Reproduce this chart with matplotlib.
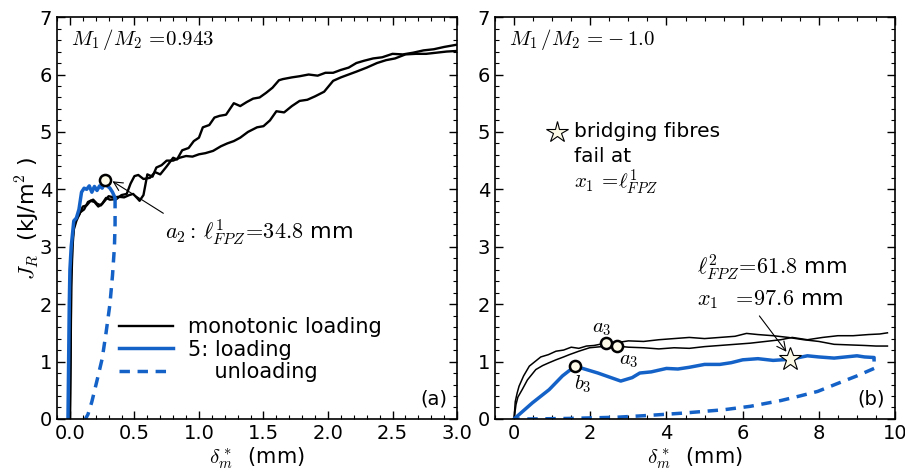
import matplotlib
matplotlib.use('Agg')
import matplotlib.pyplot as plt
from matplotlib.ticker import MultipleLocator

plt.rcParams['mathtext.fontset'] = 'cm'
plt.rcParams['font.family'] = 'DejaVu Sans'

BLUE = '#1462c8'

# ---- panel (a): M1/M2 = 0.943 ----
a_mono1_x = [0.0, 0.005, 0.01, 0.02, 0.03, 0.05, 0.07, 0.1, 0.13, 0.16, 0.19, 0.22, 0.25, 0.28, 0.31,
             0.36, 0.40, 0.44, 0.47, 0.50, 0.53, 0.57, 0.62, 0.66, 0.70, 0.75, 0.80, 0.83, 0.87, 0.92,
             0.96, 1.00, 1.03, 1.08, 1.12, 1.16, 1.21, 1.27, 1.32, 1.37, 1.42, 1.47, 1.52, 1.57, 1.62,
             1.65, 1.72, 1.78, 1.85, 1.92, 1.98, 2.04, 2.10, 2.16, 2.22, 2.28, 2.35, 2.42, 2.50, 2.58,
             2.66, 2.74, 2.82, 2.90, 3.0]
a_mono1_y = [0.0, 1.2, 2.5, 3.1, 3.35, 3.5, 3.55, 3.7, 3.72, 3.8, 3.78, 3.7, 3.75, 3.85, 3.82,
             3.83, 3.9, 3.92, 4.1, 4.23, 4.25, 4.18, 4.2, 4.3, 4.26, 4.4, 4.55, 4.52, 4.68, 4.72,
             4.84, 4.9, 5.08, 5.12, 5.25, 5.28, 5.3, 5.5, 5.45, 5.52, 5.58, 5.6, 5.68, 5.77, 5.9,
             5.92, 5.95, 5.97, 6.0, 5.98, 6.03, 6.03, 6.08, 6.12, 6.2, 6.24, 6.28, 6.3, 6.36, 6.35,
             6.38, 6.42, 6.44, 6.48, 6.52]
a_mono2_x = [0.0, 0.005, 0.01, 0.02, 0.03, 0.05, 0.08, 0.11, 0.14, 0.18, 0.21, 0.24, 0.27, 0.30, 0.34,
             0.38, 0.42, 0.46, 0.49, 0.52, 0.54, 0.57, 0.60, 0.64, 0.67, 0.71, 0.75, 0.80, 0.85, 0.90,
             0.95, 1.00, 1.05, 1.11, 1.17, 1.22, 1.27, 1.32, 1.38, 1.45, 1.50, 1.55, 1.60, 1.66, 1.72,
             1.78, 1.84, 1.90, 1.97, 2.04, 2.10, 2.16, 2.22, 2.30, 2.38, 2.45, 2.52, 2.60, 2.68, 2.76,
             2.84, 2.92, 3.0]
a_mono2_y = [0.0, 1.0, 2.3, 3.0, 3.3, 3.45, 3.6, 3.65, 3.78, 3.82, 3.75, 3.72, 3.8, 3.88, 3.86,
             3.87, 3.86, 3.9, 3.92, 3.85, 3.8, 3.9, 4.26, 4.22, 4.38, 4.42, 4.5, 4.5, 4.55, 4.58,
             4.57, 4.61, 4.63, 4.67, 4.75, 4.8, 4.84, 4.9, 5.0, 5.08, 5.1, 5.2, 5.36, 5.34, 5.45,
             5.54, 5.56, 5.62, 5.7, 5.89, 5.95, 6.0, 6.05, 6.12, 6.2, 6.25, 6.28, 6.35, 6.36, 6.36,
             6.38, 6.4, 6.41]
a_load_x = [-0.015, -0.01, -0.005, 0.0, 0.01, 0.03, 0.05, 0.07, 0.09, 0.11, 0.13, 0.15, 0.17, 0.19,
            0.21, 0.23, 0.25, 0.27, 0.29, 0.31, 0.33, 0.35]
a_load_y = [0.0, 1.0, 2.0, 2.6, 3.0, 3.45, 3.5, 3.65, 3.95, 4.02, 4.0, 4.06, 3.95, 4.05, 3.98,
            4.06, 4.02, 4.12, 4.06, 4.02, 3.95, 3.85]
a_unload_x = [0.35, 0.35, 0.345, 0.33, 0.31, 0.28, 0.25, 0.21, 0.17, 0.14, 0.12]
a_unload_y = [3.85, 3.4, 3.0, 2.5, 2.0, 1.5, 1.05, 0.67, 0.3, 0.08, 0.0]
a_mark = (0.27, 4.17)

# ---- panel (b): M1/M2 = -1.0 ----
b_mono1_x = [0.0, 0.03, 0.08, 0.13, 0.25, 0.4, 0.55, 0.7, 0.9, 1.1, 1.3, 1.5, 1.7, 1.9, 2.1, 2.4,
             2.7, 3.0, 3.4, 3.8, 4.2, 4.6, 5.0, 5.4, 5.8, 6.1, 6.4, 6.8, 7.2, 7.6, 8.0, 8.4, 8.8,
             9.2, 9.5, 9.8]
b_mono1_y = [0.0, 0.3, 0.45, 0.57, 0.75, 0.92, 1.0, 1.08, 1.12, 1.18, 1.2, 1.25, 1.23, 1.27, 1.28, 1.32,
             1.33, 1.36, 1.35, 1.38, 1.4, 1.42, 1.4, 1.42, 1.44, 1.49, 1.47, 1.45, 1.42, 1.38, 1.35, 1.3,
             1.29, 1.28, 1.27, 1.27]
b_mono2_x = [0.0, 0.05, 0.1, 0.22, 0.35, 0.57, 0.75, 0.92, 1.1, 1.3, 1.45, 1.7, 1.98, 2.3, 2.69, 3.0,
             3.4, 3.8, 4.2, 4.6, 5.0, 5.4, 5.8, 6.2, 6.6, 7.0, 7.3, 7.7, 8.1, 8.5, 8.9, 9.3, 9.6,
             9.8]
b_mono2_y = [0.0, 0.25, 0.38, 0.52, 0.68, 0.86, 0.93, 0.98, 1.03, 1.08, 1.12, 1.18, 1.24, 1.26, 1.27, 1.25,
             1.24, 1.22, 1.24, 1.23, 1.26, 1.28, 1.3, 1.32, 1.35, 1.38, 1.42, 1.38, 1.42, 1.45, 1.45, 1.47,
             1.48, 1.5]
b_load_x = [0.0, 0.48, 0.92, 1.27, 1.6, 2.2, 2.8, 3.1, 3.3, 3.6, 4.0, 4.3, 4.6, 5.0, 5.4, 5.7,
            6.0, 6.4, 6.8, 7.25, 7.7, 8.0, 8.4, 8.7, 9.0, 9.2, 9.45, 9.45]
b_load_y = [0.0, 0.28, 0.51, 0.75, 0.92, 0.8, 0.66, 0.72, 0.8, 0.82, 0.88, 0.87, 0.9, 0.95, 0.95, 0.98,
            1.03, 1.05, 1.02, 1.04, 1.1, 1.08, 1.06, 1.08, 1.1, 1.08, 1.07, 1.03]
b_unload_x = [9.45, 9.0, 8.5, 7.97, 7.5, 7.0, 6.2, 5.5, 4.4, 3.5, 2.7, 1.5, 0.5, 0.0]
b_unload_y = [0.88, 0.75, 0.62, 0.48, 0.4, 0.32, 0.22, 0.16, 0.1, 0.06, 0.03, 0.01, 0.0, 0.0]
b_a3_upper = (2.42, 1.32)
b_a3_lower = (2.7, 1.27)
b_b3 = (1.6, 0.92)
b_star = (7.25, 1.04)

fig = plt.figure(figsize=(9.05, 4.75), dpi=100)
ax1 = fig.add_axes([0.063, 0.118, 0.442, 0.846])
ax2 = fig.add_axes([0.547, 0.118, 0.442, 0.846])

ax1.plot(a_mono1_x, a_mono1_y, color='black', lw=1.7, label='monotonic loading')
ax1.plot(a_mono2_x, a_mono2_y, color='black', lw=1.7)
ax1.plot(a_load_x, a_load_y, color=BLUE, lw=2.5, label='5: loading')
ax1.plot(a_unload_x, a_unload_y, color=BLUE, lw=2.5, ls='--', dashes=(3, 2.2), label='    unloading')
ax1.plot(*a_mark, 'o', ms=8, mfc='#fdfbe8', mec='black', mew=1.8, zorder=5)
ax1.annotate(r'$a_2:\,\ell^1_{FPZ}\!=\!34.8$ mm', xy=(0.33, 4.14), xytext=(0.74, 3.25),
             fontsize=16, arrowprops=dict(arrowstyle='->', color='black', lw=0.8, shrinkB=0,
                                          relpos=(0.05, 0.9)),
             ha='left', va='center')
ax1.text(0.035, 0.945, r'$M_1\,/M_2\,=\!0.943$', transform=ax1.transAxes, fontsize=15, va='center')
ax1.text(0.975, 0.025, '(a)', transform=ax1.transAxes, fontsize=14, ha='right', va='bottom')
ax1.legend(loc='lower left', bbox_to_anchor=(0.108, 0.045), frameon=False, fontsize=15,
           handlelength=2.6, handletextpad=0.7, labelspacing=0.12)
ax1.set_xlim(-0.1, 3.0)
ax1.set_ylim(0, 7)
ax1.xaxis.set_minor_locator(MultipleLocator(0.1))
ax1.set_xticks([0.0, 0.5, 1.0, 1.5, 2.0, 2.5, 3.0])
ax1.set_xticklabels(['0.0', '0.5', '1.0', '1.5', '2.0', '2.5', '3.0'])
ax1.set_ylabel(r'$J_R$  (kJ/m$^2$ )', fontsize=16, labelpad=-1)
ax1.set_xlabel(r'$\delta^*_m$  (mm)', fontsize=15, labelpad=2)

ax2.plot(b_mono1_x, b_mono1_y, color='black', lw=1.1)
ax2.plot(b_mono2_x, b_mono2_y, color='black', lw=1.1)
ax2.plot(b_load_x, b_load_y, color=BLUE, lw=2.5)
ax2.plot(b_unload_x, b_unload_y, color=BLUE, lw=2.5, ls='--', dashes=(3, 2.2))
for pt in (b_a3_upper, b_a3_lower, b_b3):
    ax2.plot(*pt, 'o', ms=8, mfc='#fdfbe8', mec='black', mew=1.8, zorder=5)
ax2.plot(*b_star, '*', ms=17, mfc='#fdfbe8', mec='black', mew=0.8, zorder=5)
ax2.text(2.3, 1.58, r'$a_3$', fontsize=15, ha='center', va='center')
ax2.text(3.0, 1.02, r'$a_3$', fontsize=15, ha='center', va='center')
ax2.text(1.8, 0.6, r'$b_3$', fontsize=15, ha='center', va='center')
ax2.text(4.8, 2.65, r'$\ell^2_{FPZ}\!=\!61.8$ mm', fontsize=16, ha='left', va='center')
ax2.annotate(r'$x_1\ \ =\!97.6$ mm', xy=(7.15, 1.17), xytext=(4.8, 2.08), fontsize=16,
             ha='left', va='center',
             arrowprops=dict(arrowstyle='->', color='black', lw=0.8, shrinkB=0,
                             relpos=(0.4, 0.0)))
ax2.plot(1.13, 5.0, '*', ms=16, mfc='#fdfbe8', mec='black', mew=0.8)
ax2.text(1.58, 5.0, 'bridging fibres', fontsize=14.5, va='center')
ax2.text(1.58, 4.57, 'fail at', fontsize=14.5, va='center')
ax2.text(1.58, 4.12, r'$x_1\,=\!\ell^1_{FPZ}$', fontsize=15, va='center')
ax2.text(0.035, 0.945, r'$M_1\,/M_2\,=\!-1.0$', transform=ax2.transAxes, fontsize=15, va='center')
ax2.text(0.975, 0.025, '(b)', transform=ax2.transAxes, fontsize=14, ha='right', va='bottom')
ax2.set_xlim(-0.5, 10)
ax2.set_ylim(0, 7)
ax2.xaxis.set_major_locator(MultipleLocator(2))
ax2.xaxis.set_minor_locator(MultipleLocator(0.5))
ax2.set_xlabel(r'$\delta^*_m$  (mm)', fontsize=15, labelpad=2)

for ax in (ax1, ax2):
    ax.yaxis.set_major_locator(MultipleLocator(1))
    ax.yaxis.set_minor_locator(MultipleLocator(0.2))
    ax.tick_params(which='both', direction='in', top=True, right=True, labelsize=14)
    ax.tick_params(which='major', length=6, width=1)
    ax.tick_params(which='minor', length=3, width=0.8)
    for s in ax.spines.values():
        s.set_linewidth(1.2)

fig.savefig('out.png', dpi=100)
